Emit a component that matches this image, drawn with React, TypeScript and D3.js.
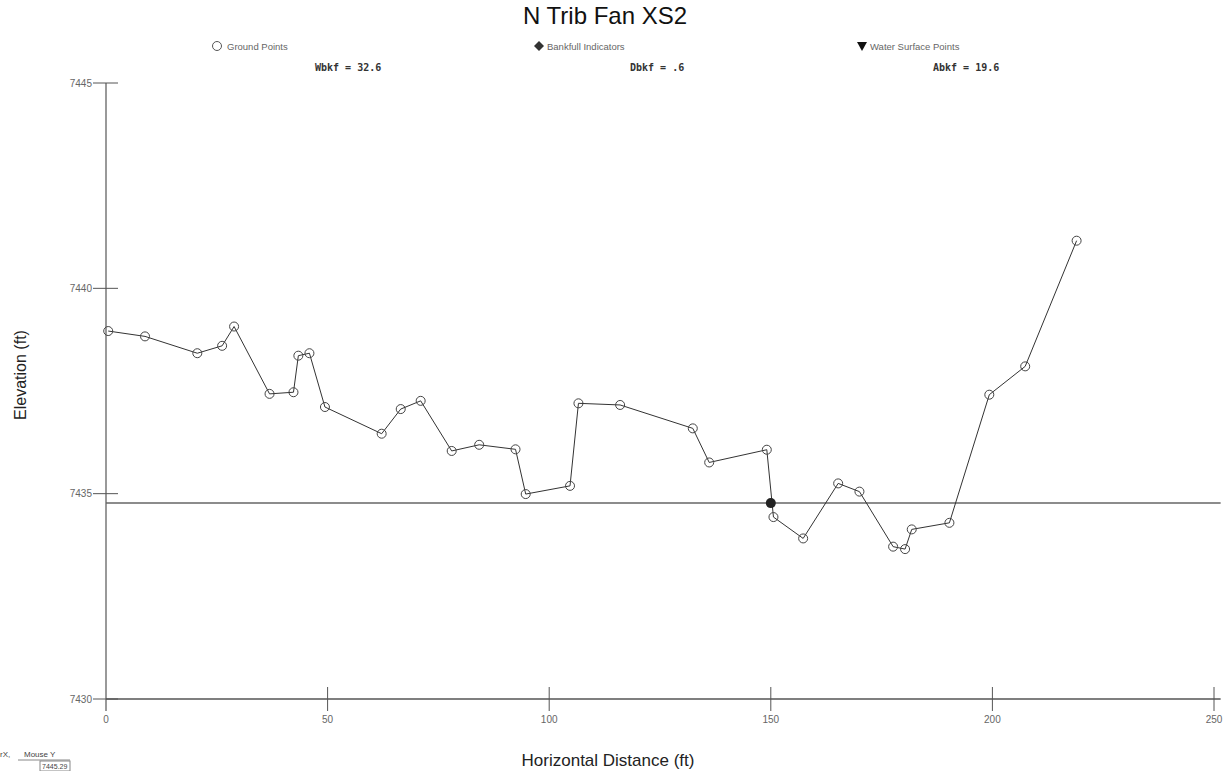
import React from "react";
import * as d3 from "d3";

// Station (ft) and elevation (ft) of the surveyed ground points
const stations = [
  0.5, 8.8, 20.6, 26.2, 28.9, 36.9, 42.3, 43.4, 45.9, 49.4, 62.2, 66.5, 71.0,
  78.0, 84.2, 92.4, 94.7, 104.7, 106.6, 116.0, 132.4, 136.1, 149.1, 150.6,
  157.3, 165.2, 170.0, 177.6, 180.3, 181.8, 190.3, 199.3, 207.4, 219.0,
];
const elevations = [
  7438.96, 7438.83, 7438.42, 7438.6, 7439.07, 7437.43, 7437.47, 7438.36,
  7438.42, 7437.11, 7436.46, 7437.06, 7437.26, 7436.04, 7436.19, 7436.08,
  7434.99, 7435.19, 7437.2, 7437.16, 7436.59, 7435.76, 7436.07, 7434.43,
  7433.91, 7435.25, 7435.05, 7433.71, 7433.65, 7434.13, 7434.29, 7437.41,
  7438.1, 7441.16,
];

// Bankfull indicator
const bankfullStation = [150];
const bankfullElevation = [7434.77];

const xTicks = [0, 50, 100, 150, 200, 250];
const yTicks = [7430, 7435, 7440, 7445];

const legendItems = ["Ground Points", "Bankfull Indicators", "Water Surface Points"];
const summaryLabels = ["Wbkf = 32.6", "Dbkf = .6", "Abkf = 19.6"];

const W = 1227;
const H = 771;

export default function App() {
  const x = d3.scaleLinear().domain([0, 250]).range([106, 1214]);
  const y = d3.scaleLinear().domain([7430, 7445]).range([699, 83]);

  const pts = stations.map((s, i) => [s, elevations[i]] as [number, number]);
  const line = d3
    .line<[number, number]>()
    .x((d) => x(d[0]))
    .y((d) => y(d[1]));

  const axisColor = "#555";
  const labelColor = "#666";
  const sans = "Liberation Sans, Arial, sans-serif";
  const mono = "DejaVu Sans Mono, Liberation Mono, monospace";

  const legendX = [217, 539, 862];
  const summaryX = [315, 630, 933];

  return (
    <svg
      width={W}
      height={H}
      style={{ position: "absolute", left: 0, top: 0, background: "#fff" }}
      fontFamily={sans}
    >
      <rect width={W} height={H} fill="#fff" />
      {/* Title */}
      <text x={605} y={24} textAnchor="middle" fontSize={24} fill="#111">
        N Trib Fan XS2
      </text>

      {/* Legend */}
      <g fontSize={9.5} fill={labelColor}>
        <circle cx={legendX[0]} cy={46} r={4.5} fill="none" stroke="#555" />
        <text x={legendX[0] + 10} y={49.5}>{legendItems[0]}</text>
        <path d={`M${legendX[1]},${41} l5,5 l-5,5 l-5,-5 Z`} fill="#333" />
        <text x={legendX[1] + 8} y={49.5}>{legendItems[1]}</text>
        <path d={`M${legendX[2] - 5},${42} h10 l-5,9 Z`} fill="#111" />
        <text x={legendX[2] + 8} y={49.5}>{legendItems[2]}</text>
      </g>
      <g fontSize={10} fontFamily={mono} fontWeight="bold" fill="#333">
        {summaryLabels.map((t, i) => (
          <text key={t} x={summaryX[i]} y={71}>
            {t}
          </text>
        ))}
      </g>

      {/* Axes */}
      <line x1={x(0)} x2={x(0)} y1={y(7445)} y2={y(7430) + 12} stroke={axisColor} strokeWidth={1.2} />
      <line x1={x(0)} x2={x(251.5)} y1={y(7430)} y2={y(7430)} stroke={axisColor} strokeWidth={1.5} />
      {yTicks.map((t) => (
        <g key={t}>
          <line x1={x(0) - 13} x2={x(0) + 12} y1={y(t)} y2={y(t)} stroke={axisColor} />
          <text
            x={x(0) - 14}
            y={y(t)}
            dy="0.35em"
            textAnchor="end"
            fontSize={10}
            fill={labelColor}
          >
            {t}
          </text>
        </g>
      ))}
      {xTicks.map((t) => (
        <g key={t}>
          {t > 0 && (
            <line x1={x(t)} x2={x(t)} y1={y(7430) - 12} y2={y(7430) + 12} stroke={axisColor} />
          )}
          <text x={x(t)} y={723} textAnchor="middle" fontSize={10} fill={labelColor}>
            {t}
          </text>
        </g>
      ))}

      {/* Axis titles */}
      <text x={608} y={766} textAnchor="middle" fontSize={17} fill="#222">
        Horizontal Distance (ft)
      </text>
      <text
        transform={`translate(26,375) rotate(-90)`}
        textAnchor="middle"
        fontSize={16}
        fill="#222"
      >
        Elevation (ft)
      </text>

      {/* Water surface at bankfull elevation */}
      <line
        x1={x(0)}
        x2={x(251.5)}
        y1={y(bankfullElevation[0])}
        y2={y(bankfullElevation[0])}
        stroke="#666"
        strokeWidth={1.5}
      />

      {/* Ground profile */}
      <path d={line(pts) ?? ""} fill="none" stroke="#333" strokeWidth={1} />
      {pts.map((p, i) => (
        <circle
          key={i}
          cx={x(p[0])}
          cy={y(p[1])}
          r={4.5}
          fill="none"
          stroke="#444"
          strokeWidth={1}
        />
      ))}

      {/* Bankfull marker */}
      {bankfullStation.map((s, i) => (
        <circle
          key={s}
          cx={x(s)}
          cy={y(bankfullElevation[i])}
          r={5}
          fill="#222"
        />
      ))}

      {/* Cursor readout */}
      <g fontSize={8} fill="#444">
        <text x={0} y={757}>rX,</text>
        <text x={24} y={757}>Mouse Y</text>
        <line x1={18} x2={70} y1={760} y2={760} stroke="#888" />
        <rect x={40} y={761} width={30} height={10} fill="none" stroke="#888" />
        <text x={42} y={769} fontSize={7}>7445.29</text>
      </g>
    </svg>
  );
}
